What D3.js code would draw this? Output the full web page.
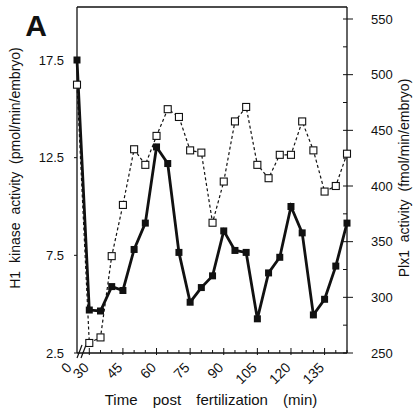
<html>
<script src="https://cdnjs.cloudflare.com/ajax/libs/d3/7.8.5/d3.min.js"></script>
<body style="margin:0; background:white;">
  <div id="graph"></div>
</body>
<script>
  // data
  var times = [0, 30, 35, 40, 45, 50, 55, 60, 65, 70, 75, 80, 85, 90, 95, 100, 105, 110, 115, 120, 125, 130, 135, 140, 145];
  var h1Kinase = [17.5, 4.7, 4.65, 5.9, 5.7, 7.8, 9.15, 13.05, 12.2, 7.65, 5.1, 5.85, 6.45, 8.75, 7.75, 7.65, 4.25, 6.6, 7.4, 10.0, 8.65, 4.45, 5.25, 6.95, 9.15];
  var plx1 = [491, 259, 264, 337, 383, 433, 419, 445, 469, 462, 432, 430, 367, 404, 458, 471, 419, 407, 428, 428, 458, 432, 395, 400, 429];
  var xTickLabels = [0, 30, 45, 60, 75, 90, 105, 120, 135];
  var xMinorTicks = [30, 35, 40, 45, 50, 55, 60, 65, 70, 75, 80, 85, 90, 95, 100, 105, 110, 115, 120, 125, 130, 135, 140, 145];
  var leftTicks = [2.5, 7.5, 12.5, 17.5];
  var rightTicks = [250, 300, 350, 400, 450, 500, 550];
  var rightMinor = [275, 325, 375, 425, 475, 525];

  var W = 419, H = 419;
  var svg = d3.select("#graph").append("svg")
      .attr("width", W).attr("height", H)
      .style("font-family", "'Liberation Sans', Arial, sans-serif");

  var x0 = 77, x1 = 347, yTop = 7, yBot = 353;
  // broken time axis: 0 sits at the left edge, then 30..145
  var X = d3.scaleLinear().domain([0, 30, 145]).range([x0, 89.3, x1]);
  var YL = d3.scaleLinear().domain([2.5, 17.5]).range([yBot, 60]);
  var YR = d3.scaleLinear().domain([250, 550]).range([yBot, 19]);

  var ink = "#111";

  // frame
  svg.append("line").attr("x1", x0).attr("x2", x0).attr("y1", yTop).attr("y2", yBot).style("stroke", ink).style("stroke-width", 1.3);
  svg.append("line").attr("x1", x1).attr("x2", x1).attr("y1", yTop).attr("y2", yBot).style("stroke", ink).style("stroke-width", 1.3);
  svg.append("line").attr("x1", x0).attr("x2", x1).attr("y1", yTop).attr("y2", yTop).style("stroke", ink).style("stroke-width", 1.3);
  svg.append("line").attr("x1", x0).attr("x2", x1).attr("y1", yBot).attr("y2", yBot).style("stroke", ink).style("stroke-width", 1.3);

  // x ticks
  svg.selectAll(".xminor").data(xMinorTicks).enter().append("line")
    .attr("x1", d => X(d)).attr("x2", d => X(d))
    .attr("y1", d => (d % 15 == 0) ? yBot + 2 : yBot)
    .attr("y2", d => (d % 15 == 0) ? yBot - 5 : yBot - 3)
    .style("stroke", ink).style("stroke-width", 1);
  svg.selectAll(".xlab").data(xTickLabels).enter().append("text")
    .attr("transform", d => "translate(" + (X(d) - (d == 0 ? 8 : 3)) + "," + (yBot + 12) + ") rotate(-45)")
    .attr("text-anchor", "end").attr("dy", "0.35em")
    .style("font-size", "14px").style("fill", ink)
    .text(d => d);

  // break marks on the time axis
  [0, 4].forEach(function(o) {
    svg.append("line").attr("x1", 77 + o).attr("y1", yBot + 5).attr("x2", 82 + o).attr("y2", yBot - 8)
      .style("stroke", ink).style("stroke-width", 1.2);
  });

  // left axis ticks + labels
  svg.selectAll(".ltick").data(leftTicks).enter().append("line")
    .attr("x1", x0 - 3).attr("x2", x0).attr("y1", d => YL(d)).attr("y2", d => YL(d))
    .style("stroke", ink).style("stroke-width", 1);
  svg.selectAll(".llab").data(leftTicks).enter().append("text")
    .attr("x", 64).attr("y", d => YL(d)).attr("dy", "0.35em")
    .attr("text-anchor", "end").style("font-size", "13px").style("fill", ink)
    .text(d => d);

  // right axis ticks + labels
  svg.selectAll(".rtick").data(rightTicks).enter().append("line")
    .attr("x1", x1 - 4).attr("x2", x1 + 6).attr("y1", d => YR(d)).attr("y2", d => YR(d))
    .style("stroke", ink).style("stroke-width", 1);
  svg.selectAll(".rminor").data(rightMinor).enter().append("line")
    .attr("x1", x1 - 4).attr("x2", x1).attr("y1", d => YR(d)).attr("y2", d => YR(d))
    .style("stroke", ink).style("stroke-width", 1);
  svg.selectAll(".rlab").data(rightTicks).enter().append("text")
    .attr("x", 371).attr("y", d => YR(d)).attr("dy", "0.35em")
    .style("font-size", "13px").style("fill", ink)
    .text(d => d);

  var pts = times.map((t, i) => ({t: t, h: h1Kinase[i], p: plx1[i]}));

  // Plx1 (dashed, open squares)
  svg.append("path").datum(pts)
    .attr("d", d3.line().x(d => X(d.t)).y(d => YR(d.p)))
    .style("fill", "none").style("stroke", ink).style("stroke-width", 1.2)
    .style("stroke-dasharray", "3,2.5");

  // H1 kinase (thick solid, filled squares)
  svg.append("path").datum(pts)
    .attr("d", d3.line().x(d => X(d.t)).y(d => YL(d.h)))
    .style("fill", "none").style("stroke", ink).style("stroke-width", 2.8)
    .style("stroke-linejoin", "miter");

  svg.selectAll(".osq").data(pts).enter().append("rect")
    .attr("x", d => X(d.t) - 3.5).attr("y", d => YR(d.p) - 3.5)
    .attr("width", 7).attr("height", 7)
    .style("fill", "white").style("stroke", ink).style("stroke-width", 1.1);

  svg.selectAll(".fsq").data(pts).enter().append("rect")
    .attr("x", d => X(d.t) - 3.5).attr("y", d => YL(d.h) - 3.5)
    .attr("width", 7).attr("height", 7)
    .style("fill", ink);

  // titles
  svg.append("text").attr("x", 36).attr("y", 36).attr("text-anchor", "middle")
    .style("font-size", "30px").style("font-weight", "bold").style("fill", ink).text("A");

  svg.append("text").attr("transform", "translate(20,168) rotate(-90)")
    .attr("text-anchor", "middle").style("font-size", "14px").style("word-spacing", "4px").style("fill", ink)
    .text("H1 kinase activity (pmol/min/embryo)");

  svg.append("text").attr("transform", "translate(409,178) rotate(-90)")
    .attr("text-anchor", "middle").style("font-size", "14px").style("word-spacing", "4px").style("fill", ink)
    .text("Plx1 activity (fmol/min/embryo)");

  svg.append("text").attr("x", 211).attr("y", 405).attr("text-anchor", "middle")
    .style("font-size", "15px").style("word-spacing", "11px").style("fill", ink)
    .text("Time post fertilization (min)");
</script>
</html>
